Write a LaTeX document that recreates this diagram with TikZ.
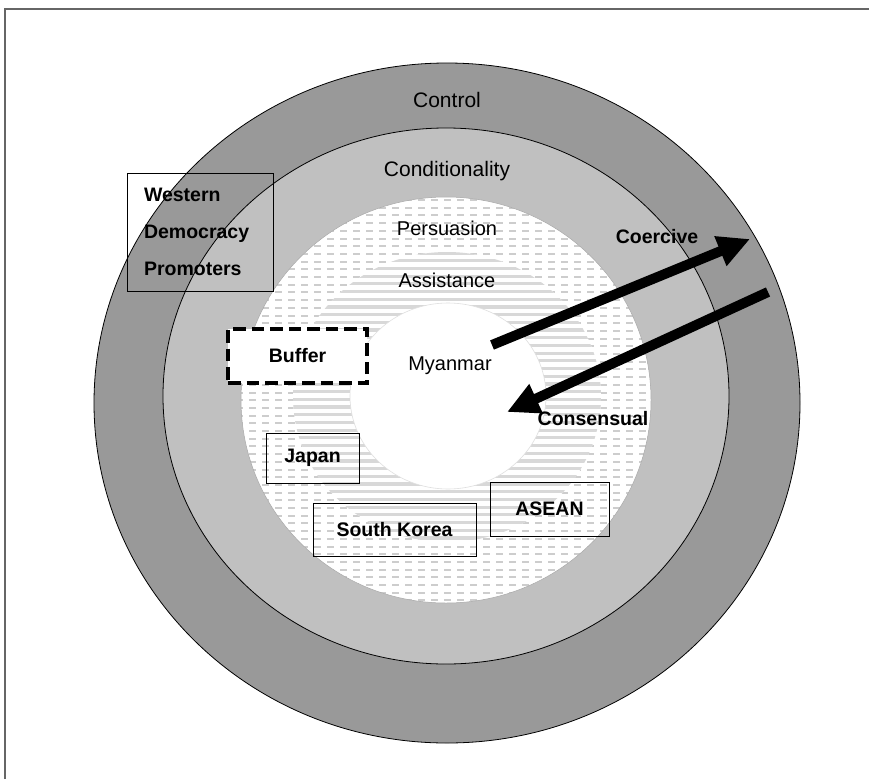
\documentclass[tikz,border=0pt]{standalone}
\usepackage{fontspec}
\setmainfont{Liberation Sans}
\usetikzlibrary{arrows.meta}
\definecolor{ctrlc}{HTML}{999999}
\definecolor{condc}{HTML}{C0C0C0}
\definecolor{dashc}{HTML}{CDCDCD}
\definecolor{stripec}{HTML}{D8D8D8}
\definecolor{framec}{HTML}{666666}
\begin{document}
\begin{tikzpicture}[x=1pt,y=-1pt,
  ringlabel/.style={font=\fontsize{20}{24}\selectfont, inner sep=0pt},
  biglabel/.style={font=\fontsize{21}{24}\selectfont, inner sep=0pt},
  actorbox/.style={draw=black, line width=0.8pt, font=\fontsize{19.5}{24}\selectfont\bfseries},
  bufferbox/.style={draw=black, fill=white, line width=3.4pt, dash pattern=on 12.5pt off 6pt, font=\fontsize{19.5}{24}\selectfont\bfseries},
  arrowlabel/.style={font=\fontsize{19.5}{24}\selectfont\bfseries, inner sep=0pt},
  bigarrow/.style={line width=10pt, -{Triangle[length=32pt,width=30pt]}}
]
\useasboundingbox (0,0) rectangle (869,779);
% frame (only top and left edges visible)
\draw[framec, line width=1.2pt] (5,779) -- (5,9) -- (869,9);
% Control ring
\draw[fill=ctrlc, line width=0.8pt] (447,403) ellipse [x radius=353, y radius=340];
% Conditionality ring
\draw[fill=condc, line width=0.8pt] (446,396) ellipse [x radius=283, y radius=268];
% Persuasion ring (dashed hatch)
\begin{scope}
  \clip (446,400) ellipse [x radius=205, y radius=203];
  \fill[white] (230,190) rectangle (660,610);
  \foreach \yy in {0,...,55} {
    \draw[dashc, line width=2pt, dash pattern=on 7pt off 6pt]
      (236,{200+\yy*7.7}) -- (660,{200+\yy*7.7});
  }
\end{scope}
\draw[gray!70, line width=0.5pt] (446,400) ellipse [x radius=205, y radius=203];
% Assistance ring (horizontal stripes)
\begin{scope}
  \clip (447,397) ellipse [x radius=154, y radius=145];
  \fill[white] (290,250) rectangle (605,545);
  \foreach \yy in {0,...,38} {
    \draw[stripec, line width=3.2pt] (290,{253+\yy*7.7}) -- (605,{253+\yy*7.7});
  }
\end{scope}
% Myanmar core
\fill[white] (448,396) ellipse [x radius=98, y radius=93];
\draw[gray!25, line width=0.6pt] (448,396) ellipse [x radius=98, y radius=93];

% ring labels
\node[biglabel] (control) at (447,100) {Control};
\node[biglabel] (conditionality) at (447,171) {Conditionality};
\node[ringlabel] (persuasion) at (447,228) {Persuasion};
\node[ringlabel] (assistance) at (447,280) {Assistance};
\node[ringlabel] (myanmar) at (450,366) {Myanmar};

% actor boxes
\node[actorbox, minimum width=146pt, minimum height=118pt, text width=112pt, align=left,
      font=\fontsize{19.5}{37}\selectfont\bfseries] (western) at (200,232)
      {Western\\Democracy\\Promoters};
\node[bufferbox, minimum width=139pt, minimum height=54pt] (buffer) at (297.5,356) {Buffer};
\node[actorbox, minimum width=93pt, minimum height=50pt] (japan) at (312.5,458) {Japan};
\node[actorbox, minimum width=163pt, minimum height=53pt] (korea) at (394.5,529.5) {South Korea};
\node[actorbox, minimum width=119pt, minimum height=54pt] (asean) at (549.5,509) {ASEAN};

% arrows
\coordinate (coerTail) at (492,345);
\coordinate (coerTip) at (750,239);
\coordinate (consTail) at (768,292);
\coordinate (consTip) at (507,412);
\draw[bigarrow] (coerTail) -- (coerTip);
\draw[bigarrow] (consTail) -- (consTip);
\node[arrowlabel] (coercive) at (657,237) {Coercive};
\node[arrowlabel] (consensual) at (593,419) {Consensual};
\end{tikzpicture}
\end{document}
